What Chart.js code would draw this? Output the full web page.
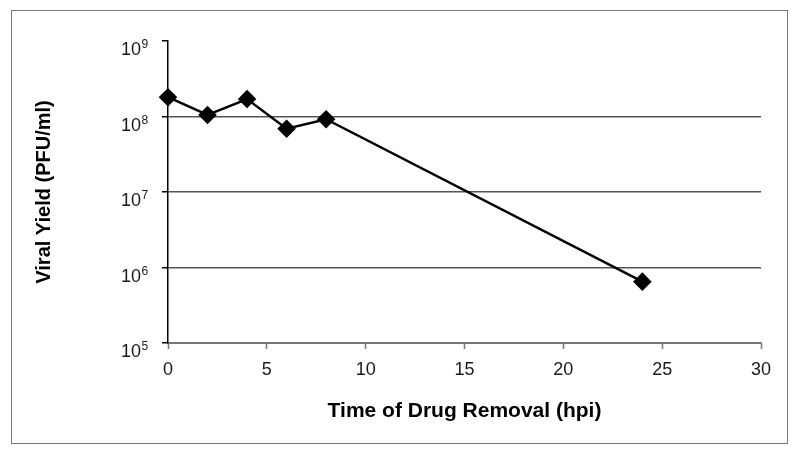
<!DOCTYPE html>
<html>
<head>
<meta charset="utf-8">
<script src="https://cdn.jsdelivr.net/npm/chart.js@4/dist/chart.umd.min.js"></script>
<style>
  html, body { margin: 0; padding: 0; background: #fff; }
  #wrap { position: relative; width: 800px; height: 458px; }
  #moldura {
    position: absolute; left: 11px; top: 10px; width: 777px; height: 434px;
    border: 1px solid #777; box-sizing: border-box;
  }
  canvas { position: absolute; left: 0; top: 0; }
</style>
</head>
<body>
<div id="wrap">
  <div id="moldura"></div>
  <canvas id="grafico" width="800" height="458"></canvas>
</div>
<script>
// DADOS
const horas = [0, 2, 4, 6, 8, 24];
const rendimento = [1.8e8, 1.05e8, 1.7e8, 6.9e7, 9.2e7, 6.5e5];

const yTicks = [1e5, 1e6, 1e7, 1e8, 1e9];
const yExpoentes = ['5', '6', '7', '8', '9'];
const linhasGrade = [1e6, 1e7, 1e8];

const fonte = '"Liberation Sans", Arial, sans-serif';

const pontos = horas.map((h, i) => ({ x: h, y: rendimento[i] }));

// rótulos do eixo Y: "10" com expoente sobrescrito
const rotulosPotencia = {
  id: 'rotulosPotencia',
  afterDraw(chart) {
    const { ctx, scales: { y } } = chart;
    const xBase = y.right - 27;
    ctx.save();
    ctx.fillStyle = '#1a1a1a';
    yTicks.forEach((v, i) => {
      const py = y.getPixelForValue(v);
      ctx.textBaseline = 'alphabetic';
      ctx.textAlign = 'right';
      ctx.font = '18px ' + fonte;
      ctx.fillText('10', xBase, py + 14);
      ctx.textAlign = 'left';
      ctx.font = '12px ' + fonte;
      ctx.fillText(yExpoentes[i], xBase + 0.5, py + 7);
    });
    ctx.restore();
  }
};

new Chart(document.getElementById('grafico').getContext('2d'), {
  type: 'line',
  data: {
    datasets: [
      {
        label: 'Viral Yield',
        data: pontos,
        borderColor: '#000',
        backgroundColor: '#000',
        borderWidth: 2.5,
        pointStyle: 'rectRot',
        pointRadius: 7.5,
        pointHoverRadius: 7.5,
        tension: 0,
        clip: false
      }
    ]
  },
  options: {
    responsive: false,
    animation: false,
    layout: {
      padding: { top: 41, right: 39, bottom: 0, left: 0 }
    },
    plugins: {
      legend: { display: false },
      tooltip: { enabled: false }
    },
    scales: {
      x: {
        type: 'linear',
        min: 0,
        max: 30,
        ticks: {
          stepSize: 5,
          color: '#1a1a1a',
          padding: 10,
          font: { family: fonte, size: 18 }
        },
        grid: {
          drawOnChartArea: false,
          tickLength: 6,
          tickColor: '#777',
          tickWidth: 1.5
        },
        border: { color: '#777', width: 2 },
        title: {
          display: true,
          text: 'Time of Drug Removal (hpi)',
          color: '#000',
          font: { family: fonte, size: 21, weight: 'bold' },
          padding: { top: 0, bottom: 34 }
        },
        afterFit: s => { s.height = 115; }
      },
      y: {
        type: 'logarithmic',
        min: 1e5,
        max: 1e9,
        afterBuildTicks: s => {
          s.ticks = yTicks.map(v => ({ value: v }));
        },
        ticks: {
          callback: () => ''
        },
        grid: {
          color: ctx => linhasGrade.includes(ctx.tick && ctx.tick.value) ? '#555' : 'rgba(0,0,0,0)',
          lineWidth: 1.5,
          tickLength: 6,
          tickColor: '#000'
        },
        border: { color: '#000', width: 1.5 },
        title: {
          display: true,
          text: 'Viral Yield (PFU/ml)',
          color: '#000',
          font: { family: fonte, size: 20, weight: 'bold' },
          padding: { top: 32, bottom: 0 }
        },
        afterFit: s => { s.width = 168; }
      }
    }
  },
  plugins: [rotulosPotencia]
});
</script>
</body>
</html>
